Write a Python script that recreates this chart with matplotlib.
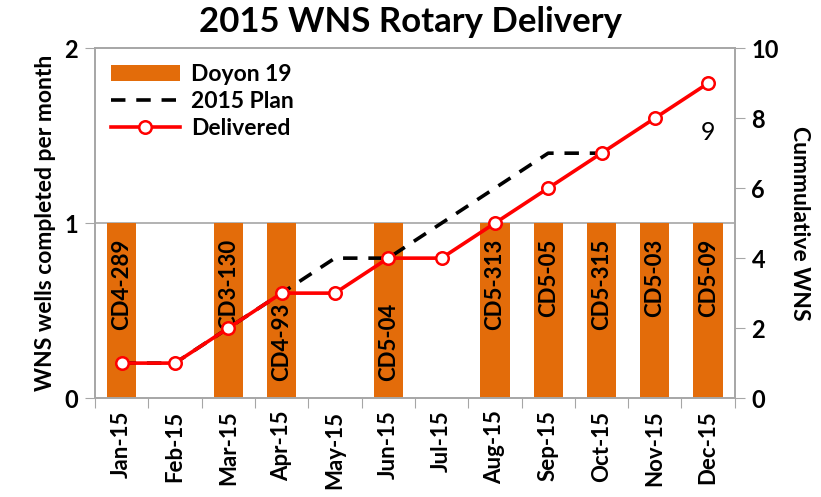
import matplotlib
matplotlib.use("Agg")
import matplotlib.pyplot as plt
import numpy as np

plt.rcParams['font.family'] = ['Lato', 'DejaVu Sans']

months = ["Jan-15", "Feb-15", "Mar-15", "Apr-15", "May-15", "Jun-15",
          "Jul-15", "Aug-15", "Sep-15", "Oct-15", "Nov-15", "Dec-15"]
doyon = [1, 0, 1, 1, 0, 1, 0, 1, 1, 1, 1, 1]
well_labels = ["CD4-289", "", "CD3-130", "CD4-93", "", "CD5-04", "",
               "CD5-313", "CD5-05", "CD5-315", "CD5-03", "CD5-09"]
label_at_bottom = [False, False, False, True, False, True, False,
                   False, False, False, False, False]
plan = [1, 1, 2, 3, 4, 4, 5, 6, 7, 7, np.nan, np.nan]
delivered = [1, 1, 2, 3, 3, 4, 4, 5, 6, 7, 8, 9]

orange = "#E36C0A"
grey = "#A6A6A6"

fig = plt.figure(figsize=(8.21, 4.97), dpi=100)
ax = fig.add_axes([0.1157, 0.199, 0.7793, 0.704])
x = np.arange(len(months))

bars = ax.bar(x, doyon, width=0.55, color=orange, label="Doyon 19", zorder=2)
ax.set_xlim(-0.5, len(months) - 0.5)
ax.set_ylim(0, 2)
ax.set_yticks([0, 1, 2])
ax.axhline(1, color=grey, lw=1.2, zorder=1)

for xi, lab, bot in zip(x, well_labels, label_at_bottom):
    if not lab:
        continue
    if bot:
        ax.text(xi, 0.10, lab, rotation=90, ha='center', va='bottom',
                fontsize=16, fontweight='bold', zorder=5)
    else:
        ax.text(xi, 0.91, lab, rotation=90, ha='center', va='top',
                fontsize=16, fontweight='bold', zorder=5)

ax2 = ax.twinx()
ax2.set_ylim(0, 10)
ax2.set_yticks([0, 2, 4, 6, 8, 10])
ax2.plot(x, plan, color='black', lw=2.6, ls=(0, (4, 3)), label="2015 Plan", zorder=3)
ax2.plot(x, delivered, color='#FF0000', lw=2.6, marker='o', markersize=9,
         markerfacecolor='white', markeredgecolor='#FF0000', markeredgewidth=1.8,
         label="Delivered", zorder=4)
ax2.text(x[-1], 7.6, "9", ha='center', va='center', fontsize=18)

# x ticks at category boundaries
ax.set_xticks(np.arange(-0.5, len(months), 1.0))
ax.set_xticklabels([])
ax.set_xticks(x, minor=True)
ax.set_xticklabels(months, minor=True, rotation=90, fontsize=16, fontweight='bold')
ax.tick_params(axis='x', which='minor', length=0, pad=9)
ax.tick_params(axis='x', which='major', length=7, color=grey, direction='out')

ax.tick_params(axis='y', length=7, color=grey, labelsize=17, pad=5)
ax2.tick_params(axis='y', length=7, color=grey, labelsize=17, pad=5)
for lab in ax.get_yticklabels() + ax2.get_yticklabels():
    lab.set_fontweight('bold')

for a in (ax, ax2):
    for s in a.spines.values():
        s.set_color(grey)
        s.set_linewidth(1.2)

ax.set_ylabel("WNS wells completed per month", fontsize=16.5, fontweight='bold', labelpad=6)
ax2.set_ylabel("Cummulative WNS", fontsize=16.5, fontweight='bold', rotation=270, labelpad=22)

fig.suptitle("2015 WNS Rotary Delivery", fontsize=25, fontweight='bold', x=0.5, y=0.988, va='top')

h1, l1 = ax.get_legend_handles_labels()
h2, l2 = ax2.get_legend_handles_labels()
leg = ax2.legend(h1 + h2, l1 + l2, loc='upper left', frameon=False,
                 prop={'size': 16.5, 'weight': 'bold'}, handlelength=3.0,
                 borderaxespad=0.3, labelspacing=0.25, handletextpad=0.5)

fig.savefig("out.png", dpi=100)
